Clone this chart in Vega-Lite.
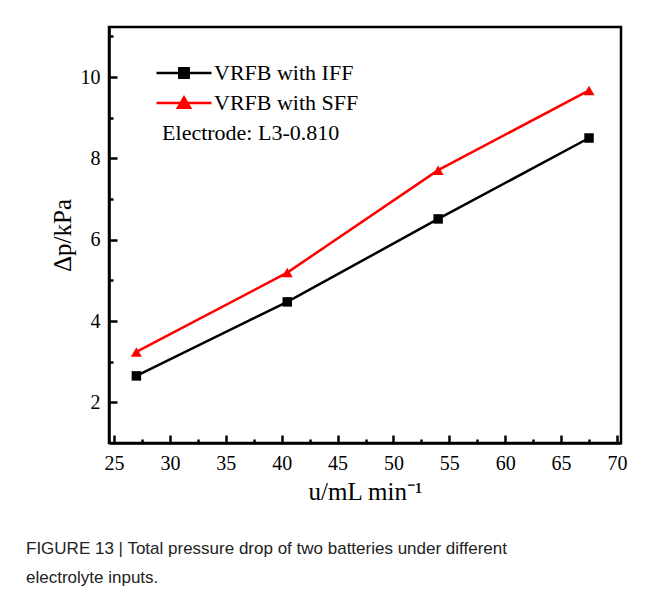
{
  "$schema": "https://vega.github.io/schema/vega-lite/v6.json",
  "width": 512,
  "height": 416,
  "autosize": {"type": "none"},
  "padding": {"left": 109, "top": 27, "right": 25, "bottom": 152},
  "background": "white",
  "config": {
    "view": {"stroke": "black", "strokeWidth": 2.5},
    "font": "Liberation Serif"
  },
  "title": {
    "text": ["FIGURE 13 | Total pressure drop of two batteries under different", "electrolyte inputs."],
    "orient": "bottom",
    "anchor": "start",
    "frame": "group",
    "dx": -83,
    "offset": 37,
    "font": "Liberation Sans",
    "fontSize": 17,
    "fontWeight": "normal",
    "color": "#222222",
    "lineHeight": 29
  },
  "datasets": {
    "pts": [
      {"u": 27, "dp": 2.65, "series": "VRFB with IFF"},
      {"u": 40.5, "dp": 4.47, "series": "VRFB with IFF"},
      {"u": 54, "dp": 6.51, "series": "VRFB with IFF"},
      {"u": 67.5, "dp": 8.5, "series": "VRFB with IFF"},
      {"u": 27, "dp": 3.24, "series": "VRFB with SFF"},
      {"u": 40.5, "dp": 5.19, "series": "VRFB with SFF"},
      {"u": 54, "dp": 7.71, "series": "VRFB with SFF"},
      {"u": 67.5, "dp": 9.67, "series": "VRFB with SFF"}
    ]
  },
  "resolve": {
    "axis": {"x": "independent", "y": "independent"},
    "scale": {"shape": "independent", "color": "independent", "stroke": "independent"},
    "legend": {"color": "independent", "shape": "independent", "stroke": "independent"}
  },
  "layer": [
    {
      "data": {"name": "pts"},
      "mark": {"type": "line", "strokeWidth": 2.5},
      "encoding": {
        "x": {
          "field": "u", "type": "quantitative",
          "scale": {"domain": [24.55, 70.36], "nice": false, "zero": false},
          "axis": {
            "orient": "bottom",
            "values": [25, 30, 35, 40, 45, 50, 55, 60, 65, 70],
            "title": "u/mL min⁻¹",
            "titleFont": "Liberation Serif", "titleFontSize": 25, "titleFontWeight": "normal", "titleColor": "black",
            "titlePadding": 6,
            "labelFont": "Liberation Serif", "labelFontSize": 20, "labelColor": "black",
            "labelPadding": 18,
            "tickSize": -8, "tickWidth": 2.5, "tickColor": "black",
            "domainColor": "black", "domainWidth": 2.5,
            "grid": false
          }
        },
        "y": {
          "field": "dp", "type": "quantitative",
          "scale": {"domain": [1, 11.23], "nice": false, "zero": false},
          "axis": {
            "orient": "left",
            "values": [2, 4, 6, 8, 10],
            "title": "Δp/kPa",
            "titleFont": "Liberation Serif", "titleFontSize": 25, "titleFontWeight": "normal", "titleColor": "black",
            "titlePadding": 5,
            "labelFont": "Liberation Serif", "labelFontSize": 20, "labelColor": "black",
            "labelPadding": 17,
            "tickSize": -8, "tickWidth": 2.5, "tickColor": "black",
            "domainColor": "black", "domainWidth": 2.5,
            "grid": false
          }
        },
        "color": {
          "field": "series", "type": "nominal",
          "scale": {"domain": ["VRFB with IFF", "VRFB with SFF"], "range": ["black", "#ff0000"]},
          "legend": null
        }
      }
    },
    {
      "data": {"name": "pts"},
      "mark": {"type": "point", "filled": true, "opacity": 1},
      "encoding": {
        "x": {"field": "u", "type": "quantitative", "axis": null},
        "y": {"field": "dp", "type": "quantitative", "axis": null},
        "color": {
          "field": "series", "type": "nominal",
          "scale": {"domain": ["VRFB with IFF", "VRFB with SFF"], "range": ["black", "#ff0000"]},
          "legend": null
        },
        "shape": {
          "field": "series", "type": "nominal",
          "scale": {"domain": ["VRFB with IFF", "VRFB with SFF"], "range": ["square", "triangle-up"]},
          "legend": null
        },
        "size": {"field": "series", "type": "nominal", "scale": {"domain": ["VRFB with IFF", "VRFB with SFF"], "range": [90, 120]}, "legend": null}
      }
    },
    {
      "data": {"name": "pts"},
      "transform": [{"filter": "datum.u < 0"}],
      "mark": {"type": "point", "filled": true, "opacity": 1, "strokeWidth": 2.5, "size": 3025},
      "encoding": {
        "x": {
          "field": "u", "type": "quantitative",
          "axis": {
            "orient": "bottom",
            "values": [27.5, 32.5, 37.5, 42.5, 47.5, 52.5, 57.5, 62.5, 67.5],
            "labels": false, "domain": false, "grid": false, "title": null,
            "tickSize": -4, "tickWidth": 2.5, "tickColor": "black"
          }
        },
        "y": {
          "field": "dp", "type": "quantitative",
          "axis": {
            "orient": "left",
            "values": [3, 5, 7, 9, 11],
            "labels": false, "domain": false, "grid": false, "title": null,
            "tickSize": -4, "tickWidth": 2.5, "tickColor": "black"
          }
        },
        "color": {
          "field": "series", "type": "nominal",
          "scale": {"domain": ["VRFB with IFF", "VRFB with SFF"], "range": ["black", "#ff0000"]},
          "legend": {
            "orient": "none", "legendX": 46, "legendY": 32, "title": null, "padding": 0,
            "rowPadding": 2, "clipHeight": 28, "symbolSize": 3025, "symbolStrokeWidth": 2.5,
            "labelFont": "Liberation Serif", "labelFontSize": 22, "labelColor": "black", "labelOffset": 1
          }
        },
        "stroke": {
          "field": "series", "type": "nominal",
          "scale": {"domain": ["VRFB with IFF", "VRFB with SFF"], "range": ["black", "#ff0000"]},
          "legend": {
            "orient": "none", "legendX": 46, "legendY": 32, "title": null, "padding": 0,
            "rowPadding": 2, "clipHeight": 28, "symbolSize": 3025, "symbolStrokeWidth": 2.5,
            "labelFont": "Liberation Serif", "labelFontSize": 22, "labelColor": "black", "labelOffset": 1
          }
        },
        "shape": {
          "field": "series", "type": "nominal",
          "scale": {"domain": ["VRFB with IFF", "VRFB with SFF"], "range": ["M-1,0H1M-0.17,-0.17H0.17V0.17H-0.17Z", "M-1,0H1M0,-0.2L0.22,0.17L-0.22,0.17Z"]},
          "legend": {
            "orient": "none", "legendX": 46, "legendY": 32, "title": null, "padding": 0,
            "rowPadding": 2, "clipHeight": 28, "symbolSize": 3025, "symbolStrokeWidth": 2.5,
            "labelFont": "Liberation Serif", "labelFontSize": 22, "labelColor": "black", "labelOffset": 1
          }
        }
      }
    },
    {
      "data": {"values": [{"note": "Electrode: L3-0.810"}]},
      "mark": {"type": "text", "align": "left", "baseline": "middle", "font": "Liberation Serif", "fontSize": 22, "color": "black"},
      "encoding": {
        "x": {"datum": 29.3, "type": "quantitative", "axis": null},
        "y": {"datum": 8.63, "type": "quantitative", "axis": null},
        "text": {"field": "note"}
      }
    }
  ]
}
